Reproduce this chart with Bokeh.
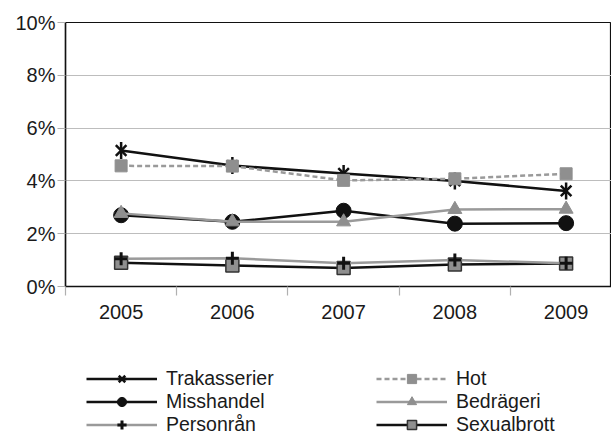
import math
from bokeh.plotting import figure
from bokeh.layouts import column
from bokeh.models import FixedTicker, Legend, LegendItem, Range1d
from bokeh.embed import file_html
from bokeh.resources import INLINE

years = [2005, 2006, 2007, 2008, 2009]
year_labels = ["2005", "2006", "2007", "2008", "2009"]
boundaries = [2004.5, 2005.5, 2006.5, 2007.5, 2008.5]
y_ticks = [0, 2, 4, 6, 8, 10]
y_tick_labels = ["0%", "2%", "4%", "6%", "8%", "10%"]

trakasserier = [5.15, 4.58, 4.28, 4.00, 3.62]
hot = [4.57, 4.56, 4.02, 4.08, 4.27]
misshandel = [2.70, 2.45, 2.87, 2.38, 2.40]
bedrageri = [2.77, 2.45, 2.45, 2.92, 2.93]
personran = [1.05, 1.07, 0.88, 1.00, 0.88]
sexualbrott = [0.90, 0.80, 0.70, 0.83, 0.87]

FONT = "Liberation Sans"
BLACK = "#111111"
GRAY = "#8f8f8f"
GRAY_LINE = "#9a9a9a"


def add_series(fig):
    r = {}
    r["Trakasserier"] = [
        fig.line(years, trakasserier, line_color=BLACK, line_width=2.5),
        fig.scatter(years, trakasserier, marker="x", size=15, line_color=BLACK, line_width=2.5),
        fig.scatter(years, trakasserier, marker="dash", angle=math.pi / 2, size=17,
                    line_color=BLACK, line_width=2.5),
    ]
    r["Hot"] = [
        fig.line(years, hot, line_color=GRAY_LINE, line_width=2.5, line_dash="5 3"),
        fig.scatter(years, hot, marker="square", size=12, fill_color=GRAY, line_color=GRAY),
    ]
    r["Misshandel"] = [
        fig.line(years, misshandel, line_color=BLACK, line_width=2.5),
        fig.scatter(years, misshandel, marker="circle", size=15, fill_color=BLACK, line_color=BLACK),
    ]
    r["Bedrägeri"] = [
        fig.line(years, bedrageri, line_color=GRAY_LINE, line_width=2.5),
        fig.scatter(years, bedrageri, marker="triangle", size=14, fill_color=GRAY, line_color=GRAY),
    ]
    r["Sexualbrott"] = [
        fig.line(years, sexualbrott, line_color=BLACK, line_width=2.5),
        fig.scatter(years, sexualbrott, marker="square", size=13, fill_color=GRAY,
                    line_color="#333333", line_width=1.5),
    ]
    r["Personrån"] = [
        fig.line(years, personran, line_color=GRAY_LINE, line_width=2.5),
        fig.scatter(years, personran, marker="cross", size=13, line_color=BLACK, line_width=3),
    ]
    return r


# ---------- main chart ----------
p = figure(width=611, height=330, output_backend="svg", toolbar_location=None,
           x_range=Range1d(2004.5, 2009.408), y_range=Range1d(0, 10),
           min_border_left=65, min_border_right=0, min_border_top=22,
           min_border_bottom=44)
p.background_fill_color = "white"
p.border_fill_color = "white"
p.outline_line_color = BLACK
p.outline_line_width = 1.2

p.xaxis.ticker = FixedTicker(ticks=years, minor_ticks=boundaries)
p.xaxis.major_label_overrides = {y: l for y, l in zip(years, year_labels)}
p.xaxis.major_tick_out = 0
p.xaxis.major_tick_in = 0
p.xaxis.minor_tick_out = 9
p.xaxis.minor_tick_in = 0
p.xaxis.minor_tick_line_color = "#b0b0b0"
p.xaxis.minor_tick_line_width = 1.2
p.xaxis.axis_line_color = BLACK
p.xaxis.axis_line_width = 1.5
p.xaxis.major_label_standoff = 9

p.yaxis.ticker = FixedTicker(ticks=y_ticks)
p.yaxis.major_label_overrides = {t: l for t, l in zip(y_ticks, y_tick_labels)}
p.yaxis.major_tick_out = 8
p.yaxis.major_tick_in = 0
p.yaxis.minor_tick_line_color = None
p.yaxis.major_tick_line_color = "#b0b0b0"
p.yaxis.major_tick_line_width = 1.2
p.yaxis.axis_line_color = BLACK
p.yaxis.axis_line_width = 1.5
p.yaxis.major_label_standoff = 2

for ax in (p.xaxis, p.yaxis):
    ax.major_label_text_font = FONT
    ax.major_label_text_font_size = "20px"
    ax.major_label_text_color = "#1a1a1a"

p.xgrid.grid_line_color = None
p.ygrid.ticker = FixedTicker(ticks=y_ticks)
p.ygrid.grid_line_color = "#bdbdbd"
p.ygrid.grid_line_width = 1.2

add_series(p)

# ---------- legend strip ----------
q = figure(width=611, height=104, output_backend="svg", toolbar_location=None,
           x_range=Range1d(0, 1), y_range=Range1d(0, 1),
           x_axis_location=None, y_axis_location=None,
           min_border_left=0, min_border_right=0, min_border_top=0, min_border_bottom=0)
q.outline_line_color = None
q.grid.visible = False
q.background_fill_color = "white"
q.border_fill_color = "white"

rq = add_series(q)
order = ["Trakasserier", "Misshandel", "Personrån", "Hot", "Bedrägeri", "Sexualbrott"]
items = [LegendItem(label=name, renderers=rq[name]) for name in order]
legend = Legend(items=items, location=(21, -2), orientation="vertical", nrows=3,
                glyph_width=71, glyph_height=23, label_height=23, label_width=210,
                spacing=0, padding=0, margin=0, label_standoff=9,
                label_text_font=FONT, label_text_font_size="19.5px",
                label_text_color="#1a1a1a", label_text_baseline="middle",
                border_line_alpha=0, background_fill_alpha=0)
q.add_layout(legend, "center")

layout = column(p, q, spacing=0)
open("out.html", "w").write(file_html(layout, INLINE))
